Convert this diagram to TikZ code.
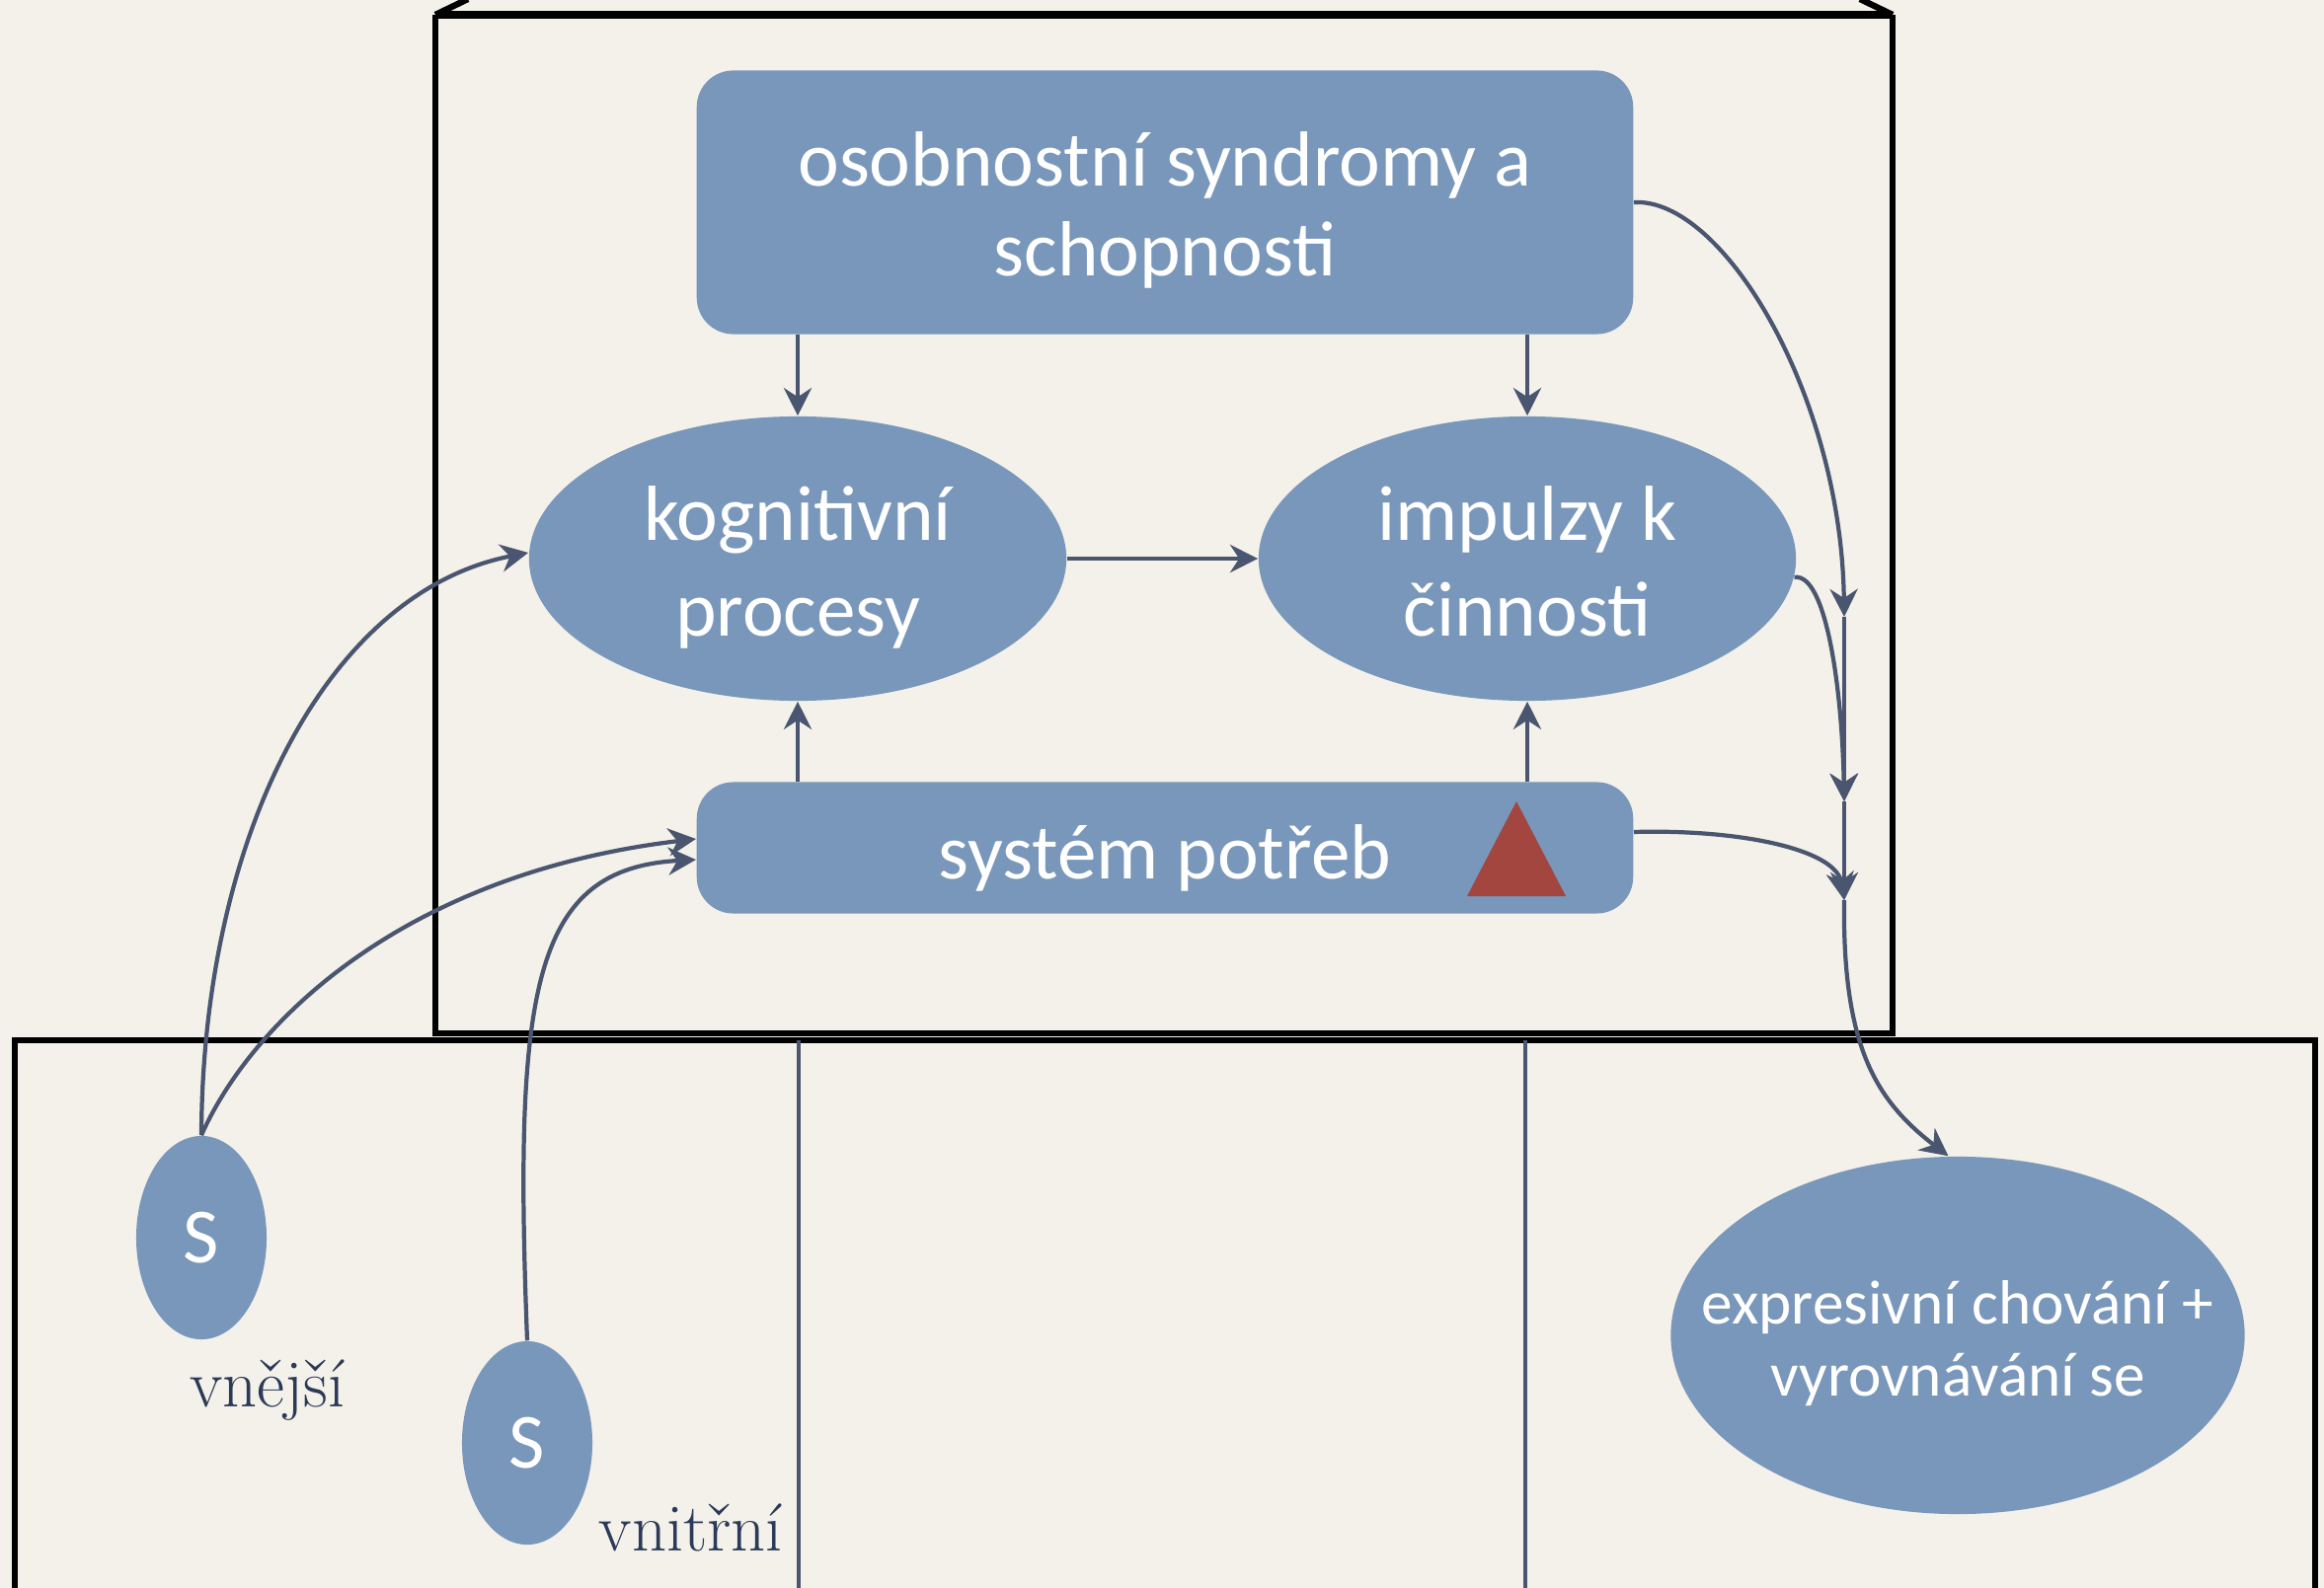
\documentclass[tikz,border=0pt]{standalone}
\usepackage{fontspec}
\newfontfamily\calibri{Carlito}
\usetikzlibrary{shapes.geometric,arrows.meta}
\definecolor{tlo}{HTML}{F4F1EA}
\definecolor{modra}{HTML}{7997BA}
\definecolor{sipka}{HTML}{4A5670}
\definecolor{cervena}{HTML}{A3463F}
\definecolor{popisek}{HTML}{2A3A57}
\newcommand{\dolu}[1]{\raisebox{-0.1cm}[\height][\depth]{#1}}
\begin{document}
\begin{tikzpicture}[x=0.01cm,y=-0.01cm,
	blok/.style={fill=modra,rounded corners=0.37cm,text=white,inner sep=0pt,align=center,font=\calibri\fontsize{22.5}{27.3}\selectfont},
	elipsa/.style={ellipse,fill=modra,text=white,inner sep=0pt,align=center,font=\calibri\fontsize{22.5}{28}\selectfont},
	sip/.style={draw=sipka,line width=1.2pt,-{Stealth[length=8pt,width=8pt,inset=2.6pt]}},
	cara/.style={draw=sipka,line width=1.2pt},
	ramec/.style={draw=black,line width=1.8pt},
	popis/.style={text=popisek,anchor=base,font=\fontsize{19.5}{23}\selectfont}]
			\fill[tlo] (0,0) rectangle (2354,1609);
			\useasboundingbox (0,0) rectangle (2354,1609);
			
			% ramy
			\draw[ramec] (441,15) -- (441,1047) -- (1917,1047) -- (1917,15);
			\draw[ramec,line width=2.4pt] (441,15) -- (1917,15);
			\draw[ramec] (441,15) -- (474,-1);
			\draw[ramec] (1917,15) -- (1884,-1);
			\draw[ramec] (15,1650) -- (15,1054) -- (2345,1054) -- (2345,1650);
			\draw[cara] (809,1054) -- (809,1620);
			\draw[cara] (1545,1054) -- (1545,1620);
			
			\node[blok,minimum width=9.48cm,minimum height=2.67cm] (osob) at (1180,205) {\dolu{\begin{tabular}{c}osobnostní syndromy a\\[-1.5pt]schopnosti\end{tabular}}};
			\node[elipsa,minimum width=5.44cm,minimum height=2.88cm] (kog) at (808,566) {\dolu{\begin{tabular}{c}kognitivní\\[-0.5pt]procesy\end{tabular}}};
			\node[elipsa,minimum width=5.44cm,minimum height=2.88cm] (imp) at (1547,566) {\dolu{\begin{tabular}{c}impulzy k\\[-0.5pt]činnosti\end{tabular}}};
			\node[blok,minimum width=9.48cm,minimum height=1.33cm] (sys) at (1180,859) {\dolu{systém potřeb}};
			\fill[cervena] (1536,812) -- (1586,908) -- (1486,908) -- cycle;
			\node[elipsa,minimum width=1.32cm,minimum height=2.06cm] (s1) at (204,1254) {S};
			\node[elipsa,minimum width=1.32cm,minimum height=2.06cm] (s2) at (534,1462) {S};
			\node[elipsa,minimum width=5.81cm,minimum height=3.62cm,inner xsep=-0.85cm,font=\calibri\fontsize{18}{21.3}\selectfont] (expr) at (1983,1353) {\dolu{\begin{tabular}{c}expresivní chování +\\[-0.5pt]vyrovnávání se\end{tabular}}};
			\node[popis] (vnej) at (271,1425) {vnější};
			\node[popis] (vnit) at (700,1571) {vnitřní};
			
			\draw[sip] (osob.south -| kog) -- (kog);
			\draw[sip] (osob.south -| imp) -- (imp);
			\draw[sip] (kog) -- (imp);
			\draw[sip] (sys.north -| kog) -- (kog);
			\draw[sip] (sys.north -| imp) -- (imp);
			
			% vpravo
			\coordinate (m1) at (1868,625);
			\coordinate (m2) at (1868,812);
			\coordinate (m3) at (1868,912);
			\draw[sip] (osob.east) .. controls (1745,200) and (1865,400) .. (m1);
			\draw[sip] (m1) -- (m2);
			\draw[sip] (m2) -- (m3);
			\draw[sip] (imp.-4) .. controls (1850,580) and (1866,700) .. (m2);
			\draw[sip] ([yshift=0.16cm]sys.east) .. controls (1760,840) and (1860,860) .. (m3);
			\draw[sip] (m3) .. controls (1866,1060) and (1900,1115) .. (expr.93);
			
			% vlevo
			\draw[sip] (s1.north) .. controls (205,850) and (330,600) .. ([yshift=0.06cm]kog.west);
			\draw[sip] (s1.north) .. controls (255,1035) and (410,885) .. ([yshift=0.09cm]sys.west);
			\draw[sip] (s2.north) .. controls (520,1000) and (540,880) .. ([yshift=-0.12cm]sys.west);
		\end{tikzpicture}
\end{document}
